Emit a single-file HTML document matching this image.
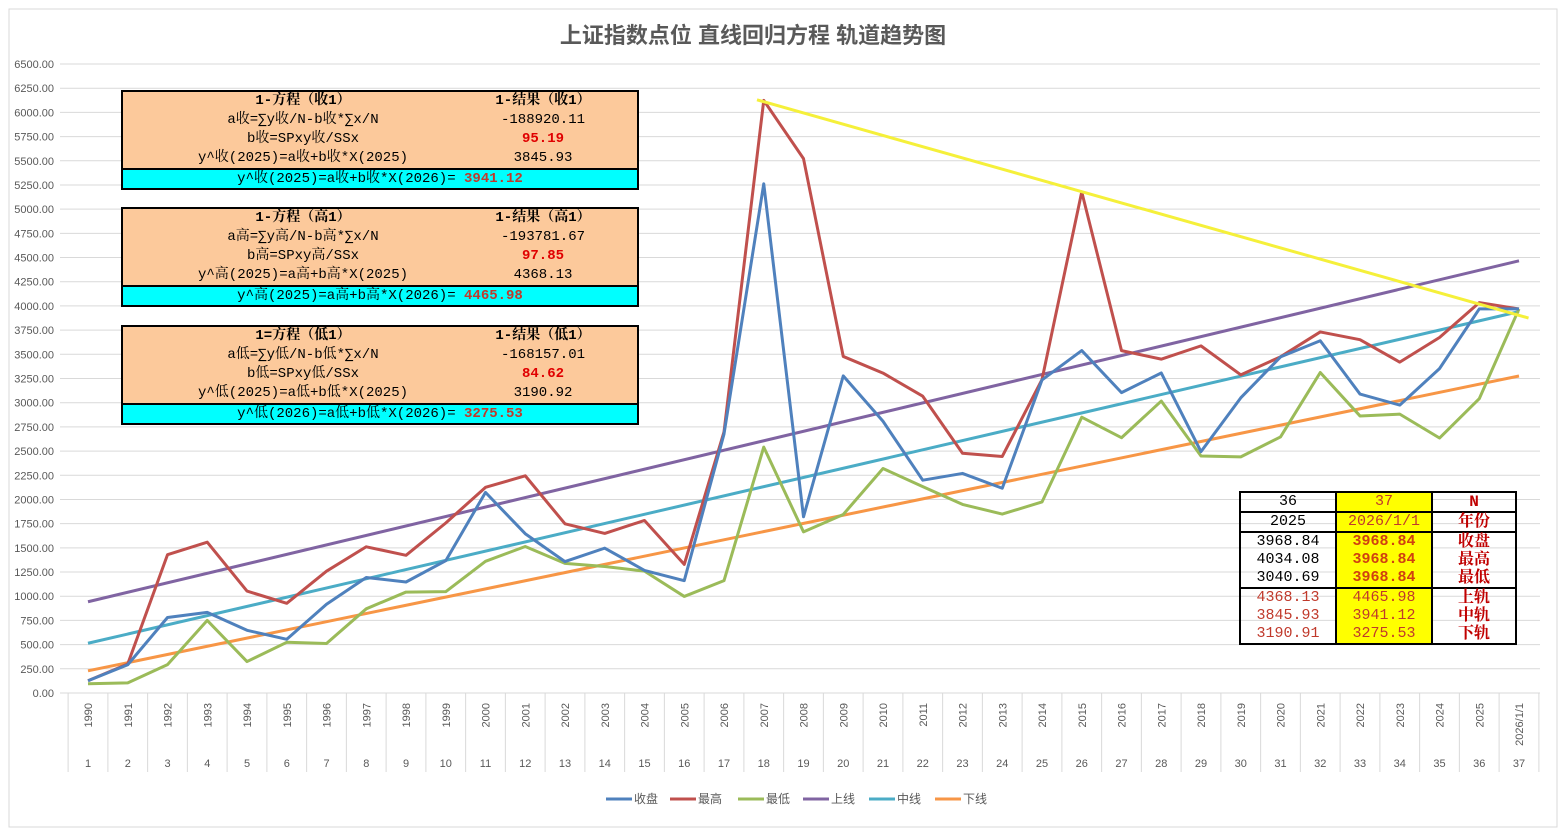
<!DOCTYPE html>
<html><head><meta charset="utf-8">
<style>
body{margin:0;background:#fff;width:1567px;height:837px;overflow:hidden;font-family:"Liberation Sans","Noto Sans CJK SC",sans-serif;}
svg{position:absolute;left:0;top:0}
.box{position:absolute;border:2px solid #000;background:#fcc99b;font-family:"Liberation Mono","Noto Serif CJK SC",monospace;font-size:14px;color:#000}
.row{height:19px;line-height:19px;position:relative}
.l{position:absolute;left:0;width:360px;text-align:center}
.r{position:absolute;left:360px;width:120px;text-align:center}
.cy{background:#00ffff;border-top:2px solid #000;height:18px;line-height:18px;text-align:center}
.red{color:#e00000;font-weight:bold}
.dr{color:#c0392b;font-weight:bold}
#rt{position:absolute;left:1239px;top:491px;border-collapse:collapse;font-family:"Liberation Mono","Noto Serif CJK SC",monospace;font-size:15px}
#rt td{border-left:2px solid #000;border-right:2px solid #000;height:18px;padding:0;text-align:center;line-height:18px}
#rt .c1{width:94px}#rt .c2{width:94px;background:#ffff00}#rt .c3{width:82px;color:#c00000;font-weight:bold;font-size:16px}
</style></head><body>
<svg id="chart" width="1567" height="837"></svg>

<div class="box" style="left:121px;top:90px;width:514px">
<div class="row"><span class="l" style="font-weight:bold">1-方程（收1）</span><span class="r" style="font-weight:bold">1-结果（收1）</span></div>
<div class="row"><span class="l">a收=∑y收/N-b收*∑x/N</span><span class="r">-188920.11</span></div>
<div class="row"><span class="l">b收=SPxy收/SSx</span><span class="r red">95.19</span></div>
<div class="row"><span class="l">y^收(2025)=a收+b收*X(2025)</span><span class="r">3845.93</span></div>
<div class="cy">y^收(2025)=a收+b收*X(2026)= <span class="dr">3941.12</span></div>
</div>
<div class="box" style="left:121px;top:207px;width:514px">
<div class="row"><span class="l" style="font-weight:bold">1-方程（高1）</span><span class="r" style="font-weight:bold">1-结果（高1）</span></div>
<div class="row"><span class="l">a高=∑y高/N-b高*∑x/N</span><span class="r">-193781.67</span></div>
<div class="row"><span class="l">b高=SPxy高/SSx</span><span class="r red">97.85</span></div>
<div class="row"><span class="l">y^高(2025)=a高+b高*X(2025)</span><span class="r">4368.13</span></div>
<div class="cy">y^高(2025)=a高+b高*X(2026)= <span class="dr">4465.98</span></div>
</div>
<div class="box" style="left:121px;top:325px;width:514px">
<div class="row"><span class="l" style="font-weight:bold">1=方程（低1）</span><span class="r" style="font-weight:bold">1-结果（低1）</span></div>
<div class="row"><span class="l">a低=∑y低/N-b低*∑x/N</span><span class="r">-168157.01</span></div>
<div class="row"><span class="l">b低=SPxy低/SSx</span><span class="r red">84.62</span></div>
<div class="row"><span class="l">y^低(2025)=a低+b低*X(2025)</span><span class="r">3190.92</span></div>
<div class="cy">y^低(2026)=a低+b低*X(2026)= <span class="dr">3275.53</span></div>
</div>

<table id="rt" style="border:2px solid #000">
<tr style="border-bottom:2px solid #000"><td class="c1">36</td><td class="c2" style="color:#c0392b">37</td><td class="c3">N</td></tr>
<tr style="border-bottom:2px solid #000"><td class="c1">2025</td><td class="c2" style="color:#c0392b">2026/1/1</td><td class="c3">年份</td></tr>
<tr><td class="c1">3968.84</td><td class="c2 dr" style="color:#d04010">3968.84</td><td class="c3">收盘</td></tr>
<tr><td class="c1">4034.08</td><td class="c2 dr" style="color:#d04010">3968.84</td><td class="c3">最高</td></tr>
<tr style="border-bottom:2px solid #000"><td class="c1">3040.69</td><td class="c2 dr" style="color:#d04010">3968.84</td><td class="c3">最低</td></tr>
<tr><td class="c1" style="color:#c0392b">4368.13</td><td class="c2" style="color:#c0392b">4465.98</td><td class="c3">上轨</td></tr>
<tr><td class="c1" style="color:#c0392b">3845.93</td><td class="c2" style="color:#c0392b">3941.12</td><td class="c3">中轨</td></tr>
<tr><td class="c1" style="color:#c0392b">3190.91</td><td class="c2" style="color:#c0392b">3275.53</td><td class="c3">下轨</td></tr>
</table>

<script>
const years=['1990','1991','1992','1993','1994','1995','1996','1997','1998','1999','2000','2001','2002','2003','2004','2005','2006','2007','2008','2009','2010','2011','2012','2013','2014','2015','2016','2017','2018','2019','2020','2021','2022','2023','2024','2025','2026/1/1'];
const closeVals=[127,292,780,833,648,555,917,1194,1147,1367,2073,1646,1358,1497,1267,1161,2676,5262,1821,3277,2808,2199,2269,2116,3235,3539,3104,3307,2494,3050,3473,3640,3089,2975,3352,3969,3969];
const highVals=[127,300,1429,1559,1053,927,1259,1511,1423,1757,2125,2245,1748,1649,1783,1329,2698,6124,5522,3478,3306,3067,2478,2444,3239,5178,3538,3450,3587,3288,3474,3731,3651,3419,3674,4034,3969];
const lowVals=[95,105,293,750,325,524,512,870,1043,1047,1361,1514,1339,1307,1259,998,1161,2541,1665,1845,2320,2133,1949,1849,1974,2850,2638,3017,2449,2440,2646,3312,2863,2882,2635,3041,3969];
const upperLine=[943,4466];
const midLine=[514,3941];
const lowerLine=[229,3276];
const trendIdx=[17.83,37.24];
const trendVals=[6130,3875];
const yTicks=[0,250,500,750,1000,1250,1500,1750,2000,2250,2500,2750,3000,3250,3500,3750,4000,4250,4500,4750,5000,5250,5500,5750,6000,6250,6500];

const svg=document.getElementById('chart');
const NS='http://www.w3.org/2000/svg';
const y0=693,yTop=64,yMax=6500,x1=88,step=39.75;
const Y=v=>y0-(v/yMax)*(y0-yTop);
const X=i=>x1+(i-1)*step;
function mk(t,a,p){const e=document.createElementNS(NS,t);for(const k in a)e.setAttribute(k,a[k]);(p||svg).appendChild(e);return e;}

const bg=mk('rect',{x:9,y:9,width:1548,height:818,fill:'#fff',stroke:'#d9d9d9'});


const title=mk('text',{x:753,y:43,'text-anchor':'middle','font-size':22,'font-weight':'bold',fill:'#595959','font-family':'"Liberation Sans","Noto Sans CJK SC",sans-serif'});
title.textContent='上证指数点位 直线回归方程 轨道趋势图';



yTicks.forEach(v=>{
  const g=mk('line',{x1:60,x2:1540,y1:Y(v),y2:Y(v),stroke:'#d9d9d9','stroke-width':1});
  
  
  const t=mk('text',{x:54,y:Y(v)+4,'text-anchor':'end','font-size':11,fill:'#595959'});
  t.textContent=v.toFixed(2);
  
  
});
for(let i=0;i<=years.length;i++){
  const xx=X(i+1)-step/2;
  const l=mk('line',{x1:xx,x2:xx,y1:y0,y2:772,stroke:'#d9d9d9'});
  
  
}
years.forEach((yr,i)=>{
  const t=mk('text',{x:0,y:0,'text-anchor':'end','font-size':11,fill:'#595959',transform:`translate(${X(i+1)+4},${703}) rotate(-90)`});
  t.textContent=yr;
  
  
  const n=mk('text',{x:X(i+1),y:767,'text-anchor':'middle','font-size':11,fill:'#595959'});
  n.textContent=String(i+1);
  
  
});

function line(vals,color,name){
  const p=mk('polyline',{points:vals.map((v,i)=>X(i+1)+','+Y(v)).join(' '),fill:'none',stroke:color,'stroke-width':3,'stroke-linejoin':'round'});
  
  
}
function seg(vals,idx,color,name){
  const p=mk('line',{x1:X(idx[0]),y1:Y(vals[0]),x2:X(idx[1]),y2:Y(vals[1]),stroke:color,'stroke-width':3});
  
  
}
seg(upperLine,[1,37],'#8064a2','upper-line');
seg(midLine,[1,37],'#4bacc6','middle-line');
seg(lowerLine,[1,37],'#f79646','lower-line');
line(lowVals,'#9bbb59','low-series');
line(highVals,'#c0504d','high-series');
line(closeVals,'#4f81bd','close-series');
seg(trendVals,trendIdx,'#f5f03a','resistance-trendline');

const legend=[['收盘','#4f81bd'],['最高','#c0504d'],['最低','#9bbb59'],['上线','#8064a2'],['中线','#4bacc6'],['下线','#f79646']];
const lx=[606,670,738,803,869,935];
legend.forEach((l,i)=>{
  const g=mk('g',{});
  
  
  mk('line',{x1:lx[i],x2:lx[i]+26,y1:799,y2:799,stroke:l[1],'stroke-width':3},g);
  const t=mk('text',{x:lx[i]+28,y:803,'font-size':12,fill:'#595959'},g);
  t.textContent=l[0];
});
</script>
</body></html>
